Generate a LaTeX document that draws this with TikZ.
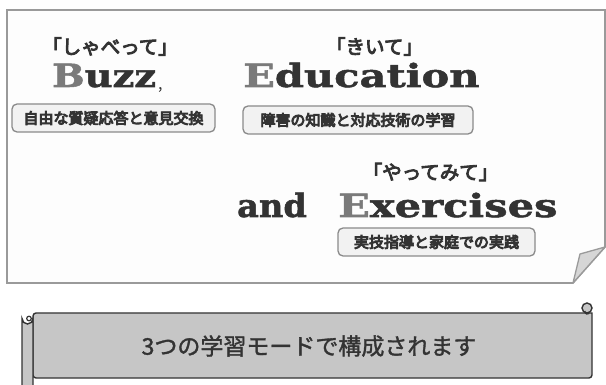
\documentclass[tikz,border=0pt]{standalone}
\usepackage{fontspec}
\newfontfamily\jp{Noto Sans CJK JP}
\newfontfamily\slab{DejaVu Serif Bold}[FakeStretch=1.3,FakeBold=1.6]
\newfontfamily\slabb{DejaVu Serif Bold}[FakeStretch=1.2,FakeBold=1.6]
\newfontfamily\slabn{DejaVu Serif Bold}[FakeStretch=1.05,FakeBold=1.6]
\newcommand\heavytext[2]{\special{pdf:literal direct 2 Tr #1 w}#2\special{pdf:literal direct 0 Tr}}
\definecolor{textdark}{HTML}{333333}
\definecolor{graylet}{HTML}{7A7A7A}
\definecolor{pageborder}{HTML}{9A9A9A}
\definecolor{pagefill}{HTML}{FDFDFD}
\definecolor{boxfill}{HTML}{F2F2F2}
\definecolor{boxborder}{HTML}{8A8A8A}
\definecolor{scrollfill}{HTML}{C6C6C6}
\definecolor{flapfill}{HTML}{D6D6D6}
\begin{document}
\begin{tikzpicture}[x=1pt,y=-1pt,
  jphead/.style={inner sep=0pt, text=textdark, font=\jp\fontsize{19.5}{19.5}\selectfont},
  bigword/.style={inner sep=0pt, anchor=base west, text=textdark, font=\slab\fontsize{32}{32}\selectfont},
  labelbox/.style={draw=boxborder, line width=1.3pt, fill=boxfill, rounded corners=5pt,
     minimum height=28pt, inner sep=0pt, text=textdark, font=\jp\fontsize{15}{15}\selectfont},
  scrollline/.style={draw=textdark, line width=1.4pt, fill=scrollfill}
]
\useasboundingbox (0,0) rectangle (606,385);
\fill[white] (0,0) rectangle (606,385);
% page
\draw[draw=pageborder, line width=1.6pt, fill=pagefill]
  (7,10) -- (605,10) -- (605,247) -- (573,283) -- (7,283) -- cycle;
\draw[draw=pageborder, line width=1.3pt, fill=flapfill, line join=round]
  (573,283) -- (580,254) -- (605,247) -- cycle;
% headings
\node[jphead] (h1) at (110,46.5) {\heavytext{0.9}{「しゃべって」}};
\node[jphead] (h2) at (374.5,46.5) {\heavytext{0.9}{「きいて」}};
\node[jphead] (h3) at (430.5,172) {\heavytext{0.9}{「やってみて」}};
% big words
\node[bigword, font=\slabb\fontsize{32}{32}\selectfont] (buzz) at (52,87) {\textcolor{graylet}{B}uzz};
\node[inner sep=0pt, anchor=base west, text=textdark, font=\jp\fontsize{16}{16}\selectfont] (comma) at (158,90) {,};
\node[bigword] (edu) at (243,87) {\textcolor{graylet}{E}ducation};
\node[bigword, font=\slabn\fontsize{32}{32}\selectfont] (and) at (237,217) {and};
\node[bigword] (exe) at (338,217) {\textcolor{graylet}{E}xercises};
% label boxes
\node[labelbox, minimum width=203pt] (b1) at (113.5,118) {\heavytext{0.9}{自由な質疑応答と意見交換}};
\node[labelbox, minimum width=230pt] (b2) at (358,120) {\heavytext{0.9}{障害の知識と対応技術の学習}};
\node[labelbox, minimum width=197pt] (b3) at (436.5,242) {\heavytext{0.9}{実技指導と家庭での実践}};
% scroll band
\path[scrollline] (33,313) -- (592,313) -- (592,375) [rounded corners=3pt] -- (592,378) -- (33,378) -- cycle;
\draw[scrollline] (587,308) circle (5);
\draw[draw=textdark, line width=1.2pt] (585,311) arc (200:20:2.3);
% left roll
\draw[scrollline] (22,390) -- (22,318.5) arc (180:0:5.5) -- (33,390);
\draw[draw=textdark, line width=1.2pt] (29,318.5) circle (2.3);
\node[inner sep=0pt, text=textdark, font=\jp\fontsize{23}{23}\selectfont] (title) at (309,346) {\heavytext{0.35}{3つの学習モードで構成されます}};
\end{tikzpicture}
\end{document}
